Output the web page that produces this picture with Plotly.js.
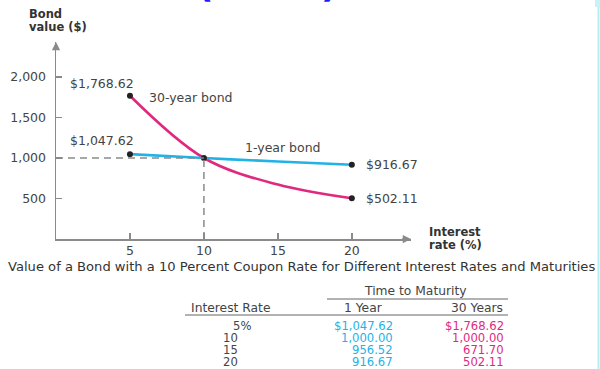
<!DOCTYPE html>
<html>
<head>
<meta charset="utf-8">
<script src="https://cdn.plot.ly/plotly-3.0.1.min.js"></script>
<style>html,body{margin:0;padding:0;background:#fff;}#chart{width:600px;height:369px;}</style>
</head>
<body>
<div id="chart"></div>
<script>
// ---- data ----
const rates = [5, 10, 15, 20];
const oneYear = [1047.62, 1000.00, 956.52, 916.67];
const thirtyYear = [1768.62, 1000.00, 671.70, 502.11];
const yTicks = [500, 1000, 1500, 2000];
const xTicks = [5, 10, 15, 20];
const seriesNames = ['1-year bond', '30-year bond'];
const tableHeaders = ['Interest Rate', '1 Year', '30 Years'];
const tableGroupHeader = 'Time to Maturity';
const caption = 'Value of a Bond with a 10 Percent Coupon Rate for Different Interest Rates and Maturities';
const yTitle = ['Bond', 'value ($)'];
const xTitle = ['Interest', 'rate (%)'];

// ---- style ----
const W = 600, H = 369;
const FONT = 'DejaVu Sans, Arial, sans-serif';
const PINK = '#e1287f';
const CYAN = '#22b2e6';
const GREY = '#8a8a8a';
const TEXT = '#444';
const px = x => x / W;
const py = y => 1 - y / H;

const fmt = (v, dollar) => (dollar ? '$' : '') + v.toLocaleString('en-US', {minimumFractionDigits: 2, maximumFractionDigits: 2});

const traces = [
  {x: rates, y: thirtyYear, mode: 'lines', line: {color: PINK, width: 2.6, shape: 'spline', smoothing: 1}, hoverinfo: 'skip', name: seriesNames[1]},
  {x: rates, y: oneYear, mode: 'lines', line: {color: CYAN, width: 2.6, shape: 'spline', smoothing: 1}, hoverinfo: 'skip', name: seriesNames[0]},
  {x: [rates[0], rates[3], rates[0], rates[3], rates[1]],
   y: [thirtyYear[0], thirtyYear[3], oneYear[0], oneYear[3], thirtyYear[1]],
   mode: 'markers', marker: {color: '#222', size: 6}, hoverinfo: 'skip', cliponaxis: false}
];

const ann = [];
const lab = (text, x, y, opts) => ann.push(Object.assign({text, x, y, xref: 'x', yref: 'y', showarrow: false,
  font: {family: FONT, size: 12.5, color: TEXT}}, opts));

// point labels
lab(fmt(thirtyYear[0], true), rates[0], thirtyYear[0], {xanchor: 'center', yanchor: 'middle', xshift: -28, yshift: 12});
lab(seriesNames[1], rates[0], thirtyYear[0], {xanchor: 'left', yanchor: 'middle', xshift: 17, yshift: -2});
lab(fmt(oneYear[0], true), rates[0], oneYear[0], {xanchor: 'center', yanchor: 'middle', xshift: -28, yshift: 14});
lab(seriesNames[0], rates[2], oneYear[2], {xanchor: 'center', yanchor: 'middle', xshift: 5, yshift: 14});
lab(fmt(oneYear[3], true), rates[3], oneYear[3], {xanchor: 'left', yanchor: 'middle', xshift: 12, yshift: 0});
lab(fmt(thirtyYear[3], true), rates[3], thirtyYear[3], {xanchor: 'left', yanchor: 'middle', xshift: 12, yshift: 0});

// axis arrows
ann.push({x: 24, y: 0, ax: 23.3, ay: 0, xref: 'x', yref: 'y', axref: 'x', ayref: 'y', text: '', showarrow: true,
  arrowhead: 2, arrowsize: 1.1, arrowwidth: 1.5, arrowcolor: GREY});
ann.push({x: 0, y: 2432, ax: 0, ay: 2380, xref: 'x', yref: 'y', axref: 'x', ayref: 'y', text: '', showarrow: true,
  arrowhead: 2, arrowsize: 1.1, arrowwidth: 1.5, arrowcolor: GREY});

// axis titles
const pap = (text, x, y, opts) => ann.push(Object.assign({text, x: px(x), y: py(y), xref: 'paper', yref: 'paper', showarrow: false,
  font: {family: FONT, size: 12.5, color: TEXT}}, opts));
pap('<b>' + yTitle[0] + '</b>', 27, 14, {xanchor: 'left', yanchor: 'middle', font: {family: FONT, size: 11.5, color: '#333'}});
pap('<b>' + yTitle[1] + '</b>', 27, 27, {xanchor: 'left', yanchor: 'middle', font: {family: FONT, size: 11.5, color: '#333'}});
pap('<b>' + xTitle[0] + '</b>', 427, 232, {xanchor: 'left', yanchor: 'middle', font: {family: FONT, size: 11.5, color: '#333'}});
pap('<b>' + xTitle[1] + '</b>', 427, 245, {xanchor: 'left', yanchor: 'middle', font: {family: FONT, size: 11.5, color: '#333'}});

// caption
pap(caption, 301, 266, {xanchor: 'center', yanchor: 'middle', font: {family: FONT, size: 13.1, color: '#333'}});

// table
const TF = 11.6;
pap(tableGroupHeader, 415, 291, {xanchor: 'center', yanchor: 'middle', font: {family: FONT, size: 12.3, color: TEXT}});
pap(tableHeaders[0], 231, 308, {xanchor: 'center', yanchor: 'middle', font: {family: FONT, size: 12.3, color: TEXT}});
pap(tableHeaders[1], 363, 308, {xanchor: 'center', yanchor: 'middle', font: {family: FONT, size: 12.3, color: TEXT}});
pap(tableHeaders[2], 505, 308, {xanchor: 'right', yanchor: 'middle', font: {family: FONT, size: 12.3, color: TEXT}});
const rowY = [326, 338, 350, 362];
rates.forEach((r, i) => {
  if (i === 0) pap(r + '%', 231, rowY[i], {xanchor: 'left', yanchor: 'middle', font: {family: FONT, size: TF, color: TEXT}});
  else pap(String(r), 240, rowY[i], {xanchor: 'right', yanchor: 'middle', font: {family: FONT, size: TF, color: TEXT}});
  pap(fmt(oneYear[i], i === 0), 395, rowY[i], {xanchor: 'right', yanchor: 'middle', font: {family: FONT, size: TF, color: CYAN}});
  pap(fmt(thirtyYear[i], i === 0), 506, rowY[i], {xanchor: 'right', yanchor: 'middle', font: {family: FONT, size: TF, color: PINK}});
});

// cut-off slide title at the very top (only the bottoms of the parentheses show)
ann.push({text: "<b>(Cont.)</b>", x: px(267), y: py(6.5), xref: 'paper', yref: 'paper', showarrow: false,
  xanchor: 'center', yanchor: 'bottom', font: {family: FONT, size: 36, color: '#1a1aff'}});

const shapes = [
  {type: 'line', xref: 'x', yref: 'y', x0: 0, x1: rates[1], y0: oneYear[1], y1: oneYear[1], line: {color: GREY, width: 1.5, dash: '7px,5px'}},
  {type: 'line', xref: 'x', yref: 'y', x0: rates[1], x1: rates[1], y0: 0, y1: oneYear[1], line: {color: GREY, width: 1.5, dash: '7px,5px'}},
  {type: 'line', xref: 'paper', yref: 'paper', x0: px(327), x1: px(508), y0: py(299), y1: py(299), line: {color: '#999', width: 1.5}},
  {type: 'line', xref: 'paper', yref: 'paper', x0: px(185), x1: px(508), y0: py(315), y1: py(315), line: {color: '#999', width: 1.5}},
  {type: 'line', xref: 'paper', yref: 'paper', x0: px(598.5), x1: px(598.5), y0: 0, y1: 1, line: {color: '#b4f0f2', width: 2}},
  {type: 'rect', xref: 'paper', yref: 'paper', x0: px(595), x1: px(600), y0: py(7), y1: 1, line: {width: 0}, fillcolor: '#c6f4f6'}
];

const layout = {
  width: W, height: H,
  margin: {l: 0, r: 0, t: 0, b: 0},
  paper_bgcolor: '#fff', plot_bgcolor: '#fff',
  showlegend: false,
  xaxis: {domain: [px(56), px(411)], range: [0, 24], showgrid: false, zeroline: false,
    showline: true, linecolor: GREY, linewidth: 1.5,
    tickvals: xTicks, ticks: 'inside', ticklen: 6, tickwidth: 1.5, tickcolor: GREY,
    tickfont: {family: FONT, size: 12.5, color: TEXT}, ticklabelstandoff: -1},
  yaxis: {domain: [py(239), py(42)], range: [0, 2432], showgrid: false, zeroline: false,
    showline: true, linecolor: GREY, linewidth: 1.5,
    tickvals: yTicks, tickformat: ',d', ticks: 'inside', ticklen: 6, tickwidth: 1.5, tickcolor: GREY,
    tickfont: {family: FONT, size: 12.5, color: TEXT}, ticklabelstandoff: 6},
  annotations: ann,
  shapes: shapes
};

Plotly.newPlot('chart', traces, layout, {staticPlot: true, displayModeBar: false});
</script>
</body>
</html>
